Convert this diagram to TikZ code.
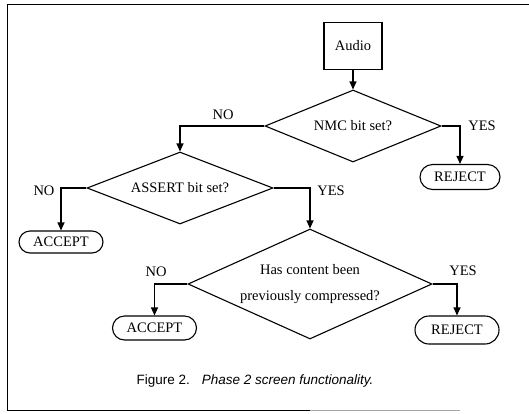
\documentclass[tikz,border=0pt]{standalone}
\usepackage{fontspec}
\setmainfont{Liberation Serif}
\newfontfamily\captionsans{Liberation Sans}
\usetikzlibrary{shapes.geometric,shapes.misc,arrows.meta}

\begin{document}
\begin{tikzpicture}[x=1pt,y=-1pt,
  line width=1.1pt,
  every node/.style={font=\fontsize{14.5}{26}\selectfont},
  startbox/.style={draw, rectangle, minimum width=58pt, minimum height=47pt, inner sep=0pt},
  decision/.style={draw, diamond, inner sep=0pt, align=center},
  terminal/.style={draw, rounded rectangle, minimum width=84pt, minimum height=24pt, inner sep=0pt},
  flow/.style={-{Triangle[length=8pt,width=7pt]}},
  answer/.style={inner sep=0pt},
  framerule/.style={line width=0.9pt}
]
\useasboundingbox (0,0) rectangle (529,413);

% page frame
\draw[framerule] (7,410) -- (7,4) -- (529,4);
\draw[framerule] (7,410) -- (310,410);
\draw[framerule, black!35] (310,410) -- (460,410);

% boxes and decisions
\node[startbox] (audio) at (353,46) {Audio};
\node[decision, shape aspect=2.44, minimum width=176pt, minimum height=72pt] (nmc) at (353,126) {NMC bit set?};
\node[terminal, minimum width=80pt, minimum height=25pt] (rej1) at (460,177) {REJECT};
\node[decision, shape aspect=2.58, minimum width=186pt, minimum height=72pt] (assert) at (180,188) {ASSERT bit set?};
\node[terminal, minimum height=22pt] (acc1) at (61,242) {ACCEPT};
\node[decision, shape aspect=2.22, minimum width=244pt, minimum height=110pt] (hc) at (310,284)
  {Has content been\\previously compressed?};
\node[terminal] (acc2) at (154.5,328) {ACCEPT};
\node[terminal, minimum height=28pt] (rej2) at (457,330) {REJECT};

% connectors
\draw[flow] (audio.south) -- (nmc.north);
\draw[flow] (nmc.west) -| (assert.north);
\draw[flow] (nmc.east) -| (rej1.north);
\draw[flow] (assert.west) -| (acc1.north);
\draw[flow] (assert.east) -| (hc.north);
\draw[flow] (hc.west) -| (acc2.north);
\draw[flow] (hc.east) -| (rej2.north);

% branch labels
\node[answer] (nmcno) at (223,115) {NO};
\node[answer] (nmcyes) at (482,126) {YES};
\node[answer] (assertno) at (44,191) {NO};
\node[answer] (assertyes) at (331,191) {YES};
\node[answer] (hcno) at (156,272) {NO};
\node[answer] (hcyes) at (463,271) {YES};

% caption
\node[font=\captionsans\fontsize{13.5}{16}\selectfont, inner sep=0pt] (caption) at (255,381)
  {Figure 2.\hspace{12pt}\textit{Phase 2 screen functionality.}};
\end{tikzpicture}
\end{document}
